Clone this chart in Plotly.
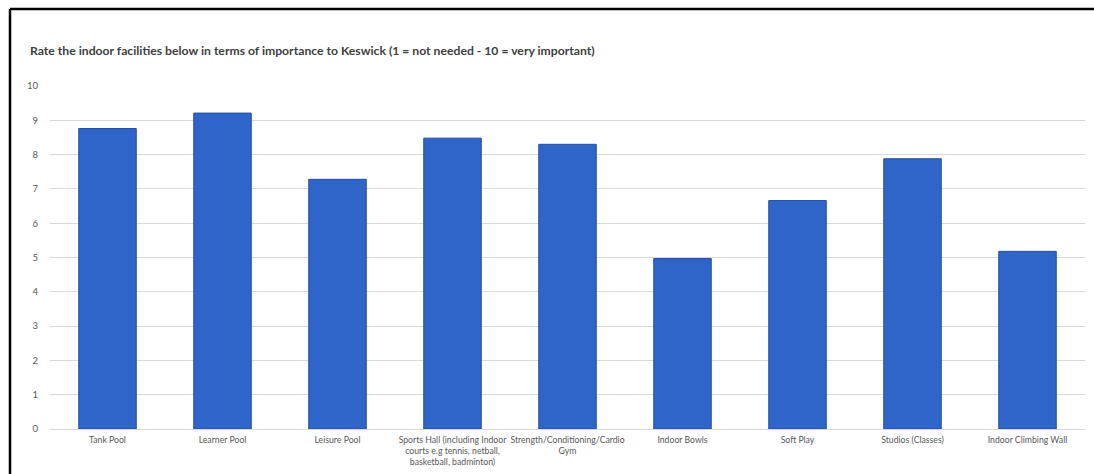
import plotly.graph_objects as go

# Survey results: mean importance score per indoor facility
facilities = [
    "Tank Pool",
    "Learner Pool",
    "Leisure Pool",
    "Sports Hall (including Indoor<br>courts e.g tennis, netball,<br>basketball, badminton)",
    "Strength/Conditioning/Cardio<br>Gym",
    "Indoor Bowls",
    "Soft Play",
    "Studios (Classes)",
    "Indoor Climbing Wall",
]
scores = [8.76, 9.21, 7.28, 8.48, 8.30, 4.97, 6.66, 7.88, 5.18]
y_ticks = [0, 1, 2, 3, 4, 5, 6, 7, 8, 9, 10]

W, H = 1094, 474
ML, MR, MT, MB = 50, 9, 86, 45
plot_w = W - ML - MR
plot_h = H - MT - MB


def px_x(p):
    return (p - ML) / plot_w


def px_y(p):
    return (H - MB - p) / plot_h


fig = go.Figure(
    go.Bar(
        x=facilities,
        y=scores,
        width=0.5,
        marker=dict(color="#2f64c8", line=dict(color="#244f9f", width=1)),
        hoverinfo="x+y",
    )
)

fig.update_layout(
    width=W,
    height=H,
    margin=dict(l=ML, r=MR, t=MT, b=MB, autoexpand=False),
    paper_bgcolor="white",
    plot_bgcolor="white",
    showlegend=False,
    font=dict(family="Lato, Open Sans, sans-serif", color="#595959", size=9),
    title=dict(
        text="<b>Rate the indoor facilities below in terms of importance to Keswick (1 = not needed - 10 = very important)</b>",
        x=30 / W,
        xanchor="left",
        y=1 - 51 / H,
        yanchor="middle",
        font=dict(size=12.2, color="#404040", family="Lato, Open Sans, sans-serif"),
    ),
    xaxis=dict(
        showgrid=False,
        showline=False,
        ticks="",
        tickangle=0,
        automargin=False,
        ticklabelstandoff=4,
        tickfont=dict(size=8.7, color="#595959"),
    ),
    yaxis=dict(
        range=[0, 10],
        tickvals=y_ticks,
        showgrid=True,
        gridcolor="#d9d9d9",
        gridwidth=1,
        zeroline=True,
        zerolinecolor="#d9d9d9",
        zerolinewidth=1,
        showline=False,
        ticks="",
        ticklabelstandoff=11,
        automargin=False,
        tickfont=dict(size=9.5, color="#595959"),
    ),
    shapes=[
        # frame: top and left edges
        dict(type="line", xref="paper", yref="paper",
             x0=px_x(10), x1=px_x(W + 4), y0=px_y(9), y1=px_y(9),
             line=dict(color="black", width=2.5)),
        dict(type="line", xref="paper", yref="paper",
             x0=px_x(10), x1=px_x(10), y0=px_y(9), y1=px_y(H + 4),
             line=dict(color="black", width=2.5)),
    ],
)

fig.write_html("out.html", config={"displayModeBar": False})
